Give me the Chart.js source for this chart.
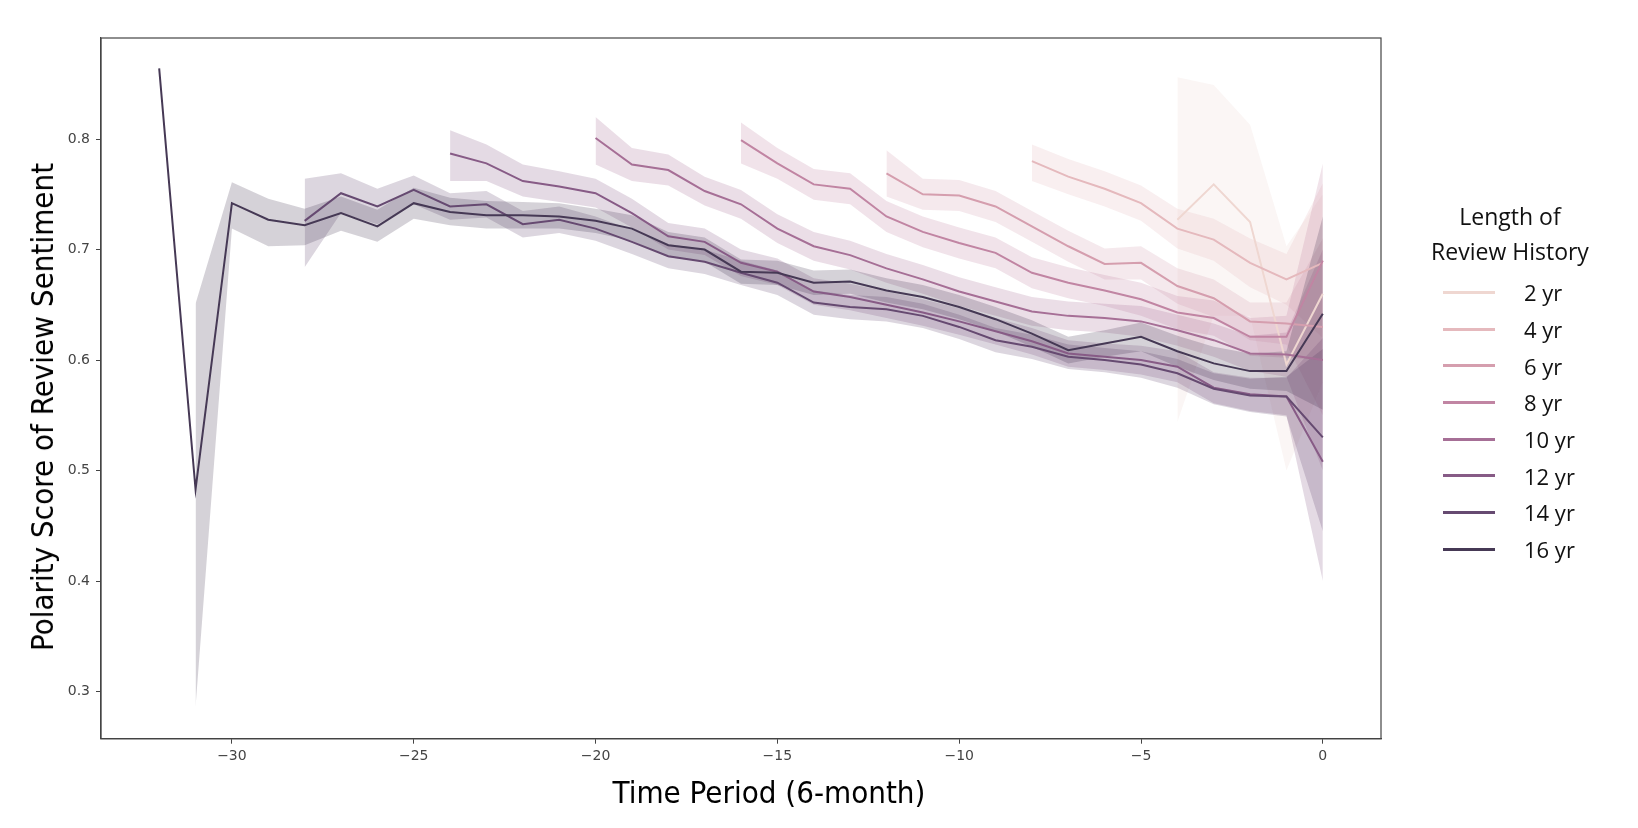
<!DOCTYPE html>
<html>
<head>
<meta charset="utf-8">
<title>Polarity Score of Review Sentiment</title>
<script src="https://cdn.jsdelivr.net/npm/chart.js@4.4.1/dist/chart.umd.min.js"></script>
<style>
  html, body { margin: 0; padding: 0; background: #fff; }
  #wrap { position: relative; width: 1638px; height: 828px; overflow: hidden; }
  #wrap canvas { position: absolute; left: 0; top: 0; }
  .axis-title {
    position: absolute;
    font-family: "DejaVu Sans Condensed", "Liberation Sans", sans-serif;
    font-size: 31px;
    color: #000;
    white-space: nowrap;
  }
  #ytitle { left: 42px; top: 407px; transform: translate(-50%, -50%) rotate(-90deg); }
  #xtitle { left: 769px; top: 792px; transform: translate(-50%, -50%); }
  #legend {
    position: absolute; left: 1400px; top: 199px; width: 220px;
    font-family: "Open Sans", Lato, sans-serif; color: #111;
  }
  #legend .title { text-align: center; font-size: 23px; line-height: 35px; margin-bottom: 5px; }
  #legend .row { display: flex; align-items: center; height: 36.7px; padding-left: 43px; font-size: 22px; }
  #legend .swatch { width: 52px; height: 3px; margin-right: 29px; }
</style>
</head>
<body>
<div id="wrap">
  <canvas id="chart" width="1638" height="828"></canvas>
  <div class="axis-title" id="ytitle">Polarity Score of Review Sentiment</div>
  <div class="axis-title" id="xtitle">Time Period (6-month)</div>
  <div id="legend"></div>
</div>
<script>
// periods (6-month steps before the end of the review history)
const periods = [-32, -31, -30, -29, -28, -27, -26, -25, -24, -23, -22, -21, -20, -19, -18, -17,
                 -16, -15, -14, -13, -12, -11, -10, -9, -8, -7, -6, -5, -4, -3, -2, -1, 0];
const xTicks = [-30, -25, -20, -15, -10, -5, 0];
const yTicks = [0.3, 0.4, 0.5, 0.6, 0.7, 0.8];

const seriesNames = ["2 yr", "4 yr", "6 yr", "8 yr", "10 yr", "12 yr", "14 yr", "16 yr"];
const seriesColors = ["#edd1cb", "#e1b0b4", "#cf91a3", "#b87496", "#9a5b88", "#774576", "#51315e", "#2d1e3e"];

// each array ends at period 0 and starts where that history begins
const mean2 = [0.727, 0.759, 0.725, 0.596, 0.660];
const lower2 = [0.544, 0.640, 0.640, 0.500, 0.580];
const upper2 = [0.856, 0.849, 0.813, 0.703, 0.750];

const mean4 = [0.780, 0.766, 0.755, 0.742, 0.719, 0.709, 0.688, 0.673, 0.688];
const lower4 = [0.762, 0.750, 0.739, 0.726, 0.701, 0.690, 0.666, 0.650, 0.620];
const upper4 = [0.795, 0.782, 0.771, 0.758, 0.737, 0.728, 0.710, 0.696, 0.760];

const mean6 = [0.769, 0.750, 0.749, 0.739, 0.721, 0.703, 0.687, 0.688, 0.667, 0.656, 0.635, 0.633, 0.630];
const lower6 = [0.748, 0.736, 0.735, 0.725, 0.707, 0.689, 0.673, 0.673, 0.651, 0.639, 0.618, 0.614, 0.550];
const upper6 = [0.790, 0.764, 0.763, 0.753, 0.735, 0.717, 0.701, 0.703, 0.683, 0.673, 0.652, 0.652, 0.710];

const mean8 = [0.799, 0.778, 0.759, 0.755, 0.730, 0.716, 0.706, 0.697, 0.679, 0.670, 0.663, 0.655,
               0.643, 0.638, 0.621, 0.621, 0.690];
const lower8 = [0.778, 0.764, 0.745, 0.741, 0.716, 0.702, 0.692, 0.683, 0.665, 0.656, 0.649, 0.640,
                0.628, 0.622, 0.604, 0.602, 0.600];
const upper8 = [0.815, 0.792, 0.773, 0.769, 0.744, 0.730, 0.720, 0.711, 0.693, 0.684, 0.677, 0.670,
                0.658, 0.654, 0.638, 0.640, 0.778];

const mean10 = [0.801, 0.777, 0.772, 0.753, 0.741, 0.719, 0.703, 0.695, 0.683, 0.673, 0.662, 0.653,
                0.644, 0.640, 0.638, 0.635, 0.627, 0.618, 0.606, 0.605, 0.600];
const lower10 = [0.777, 0.762, 0.758, 0.740, 0.728, 0.706, 0.690, 0.682, 0.670, 0.660, 0.649, 0.640,
                 0.631, 0.627, 0.625, 0.621, 0.613, 0.603, 0.590, 0.585, 0.500];
const upper10 = [0.820, 0.792, 0.786, 0.766, 0.754, 0.732, 0.716, 0.708, 0.696, 0.686, 0.675, 0.666,
                 0.657, 0.653, 0.651, 0.649, 0.641, 0.633, 0.622, 0.625, 0.700];

const mean12 = [0.787, 0.778, 0.762, 0.757, 0.751, 0.733, 0.712, 0.707, 0.688, 0.680, 0.662, 0.657,
                0.650, 0.643, 0.635, 0.626, 0.617, 0.606, 0.603, 0.600, 0.594, 0.575, 0.569, 0.567, 0.508];
const lower12 = [0.762, 0.762, 0.748, 0.743, 0.738, 0.720, 0.700, 0.695, 0.676, 0.668, 0.650, 0.645,
                 0.638, 0.631, 0.623, 0.614, 0.605, 0.594, 0.591, 0.587, 0.580, 0.561, 0.554, 0.550, 0.400];
const upper12 = [0.808, 0.795, 0.777, 0.771, 0.764, 0.746, 0.724, 0.719, 0.700, 0.692, 0.674, 0.669,
                 0.662, 0.655, 0.647, 0.638, 0.629, 0.618, 0.615, 0.613, 0.608, 0.589, 0.584, 0.584, 0.620];

const mean14 = [0.726, 0.751, 0.739, 0.754, 0.739, 0.741, 0.723, 0.727, 0.719, 0.707, 0.694, 0.689,
                0.679, 0.670, 0.652, 0.648, 0.646, 0.640, 0.630, 0.618, 0.612, 0.603, 0.600, 0.596,
                0.588, 0.574, 0.568, 0.567, 0.530];
const lower14 = [0.684, 0.733, 0.723, 0.741, 0.727, 0.729, 0.711, 0.715, 0.708, 0.696, 0.683, 0.678,
                 0.668, 0.659, 0.641, 0.637, 0.635, 0.629, 0.619, 0.607, 0.601, 0.592, 0.589, 0.584,
                 0.575, 0.560, 0.553, 0.549, 0.445];
const upper14 = [0.764, 0.769, 0.755, 0.767, 0.751, 0.753, 0.735, 0.739, 0.730, 0.718, 0.705, 0.700,
                 0.690, 0.681, 0.663, 0.659, 0.657, 0.651, 0.641, 0.629, 0.623, 0.614, 0.611, 0.608,
                 0.601, 0.588, 0.583, 0.585, 0.610];

const mean16 = [0.864, 0.483, 0.742, 0.727, 0.722, 0.733, 0.721, 0.742, 0.734, 0.731, 0.731, 0.730,
                0.726, 0.719, 0.704, 0.700, 0.680, 0.679, 0.670, 0.671, 0.663, 0.657, 0.648, 0.637,
                0.624, 0.609, 0.615, 0.621, 0.608, 0.597, 0.590, 0.590, 0.642];
const lower16 = [null, 0.286, 0.719, 0.703, 0.704, 0.717, 0.707, 0.728, 0.722, 0.719, 0.719, 0.719,
                 0.715, 0.708, 0.693, 0.689, 0.669, 0.668, 0.659, 0.660, 0.652, 0.646, 0.637, 0.626,
                 0.612, 0.597, 0.603, 0.608, 0.594, 0.582, 0.574, 0.572, 0.555];
const upper16 = [null, 0.651, 0.761, 0.746, 0.737, 0.748, 0.736, 0.756, 0.747, 0.744, 0.743, 0.742,
                 0.737, 0.731, 0.716, 0.711, 0.691, 0.690, 0.681, 0.682, 0.674, 0.668, 0.659, 0.648,
                 0.636, 0.621, 0.627, 0.634, 0.622, 0.612, 0.606, 0.608, 0.730];

const means = [mean2, mean4, mean6, mean8, mean10, mean12, mean14, mean16];
const lowers = [lower2, lower4, lower6, lower8, lower10, lower12, lower14, lower16];
const uppers = [upper2, upper4, upper6, upper8, upper10, upper12, upper14, upper16];

function toPoints(values) {
    const offset = periods.length - values.length;
    const pts = [];
    values.forEach((v, i) => {
        if (v !== null) pts.push({ x: periods[offset + i], y: v });
    });
    return pts;
}

function rgb(hex) {
    const n = parseInt(hex.slice(1), 16);
    return [(n >> 16) & 255, (n >> 8) & 255, n & 255];
}

function withAlpha(hex, a) {
    const [r, g, b] = rgb(hex);
    return `rgba(${r}, ${g}, ${b}, ${a})`;
}

// the lines in the picture look a little washed out, so mix a bit of white in
function softened(hex, k) {
    const c = rgb(hex).map(v => Math.round(v + (255 - v) * k));
    return `rgb(${c[0]}, ${c[1]}, ${c[2]})`;
}

// bands go under all lines (like matplotlib zorder), lighter series drawn first
const datasets = [];
seriesNames.forEach((name, i) => {
    datasets.push({
        label: name + " low",
        data: toPoints(lowers[i]),
        borderWidth: 0,
        borderColor: "rgba(0,0,0,0)",
        pointRadius: 0,
        fill: false,
        order: 100 - i
    });
    datasets.push({
        label: name + " band",
        data: toPoints(uppers[i]),
        borderWidth: 0,
        borderColor: "rgba(0,0,0,0)",
        backgroundColor: withAlpha(seriesColors[i], 0.2),
        pointRadius: 0,
        fill: "-1",
        order: 100 - i
    });
});
seriesNames.forEach((name, i) => {
    datasets.push({
        label: name,
        data: toPoints(means[i]),
        borderColor: softened(seriesColors[i], 0.12),
        borderWidth: 2,
        pointRadius: 0,
        fill: false,
        order: 50 - i
    });
});

const frame = {
    id: "frame",
    afterDraw(chart) {
        const { ctx, chartArea: a } = chart;
        ctx.save();
        ctx.strokeStyle = "#444";
        ctx.lineWidth = 1.2;
        ctx.strokeRect(a.left, a.top, a.right - a.left, a.bottom - a.top);
        ctx.restore();
    }
};

const tickFont = { family: "DejaVu Sans", size: 14 };

new Chart(document.getElementById("chart"), {
    type: "line",
    data: { datasets: datasets },
    options: {
        responsive: false,
        devicePixelRatio: 1,
        animation: false,
        layout: { padding: { left: 0, right: 257, top: 38, bottom: 0 } },
        plugins: {
            legend: { display: false },
            tooltip: { enabled: false }
        },
        elements: { line: { tension: 0 } },
        scales: {
            x: {
                type: "linear",
                min: -33.6,
                max: 1.6,
                afterBuildTicks: s => { s.ticks = xTicks.map(v => ({ value: v })); },
                afterFit: s => { s.height = 89.3; },
                grid: { drawOnChartArea: false, tickLength: 5, tickColor: "#444" },
                border: { display: true, color: "#444", width: 1.2 },
                ticks: {
                    color: "#444",
                    font: tickFont,
                    padding: 4,
                    maxRotation: 0,
                    callback: v => (v < 0 ? "\u2212" + Math.abs(v) : String(v))
                }
            },
            y: {
                min: 0.2573,
                max: 0.8915,
                afterBuildTicks: s => { s.ticks = yTicks.map(v => ({ value: v })); },
                afterFit: s => { s.width = 101; },
                grid: { drawOnChartArea: false, tickLength: 5, tickColor: "#444" },
                border: { display: true, color: "#444", width: 1.2 },
                ticks: {
                    color: "#444",
                    font: tickFont,
                    padding: 6,
                    callback: v => v.toFixed(1)
                }
            }
        }
    },
    plugins: [frame]
});

// legend
const legend = document.getElementById("legend");
legend.innerHTML = '<div class="title">Length of<br>Review History</div>';
seriesNames.forEach((name, i) => {
    const row = document.createElement("div");
    row.className = "row";
    row.innerHTML = `<span class="swatch" style="background:${softened(seriesColors[i], 0.12)}"></span><span>${name}</span>`;
    legend.appendChild(row);
});
</script>
</body>
</html>
